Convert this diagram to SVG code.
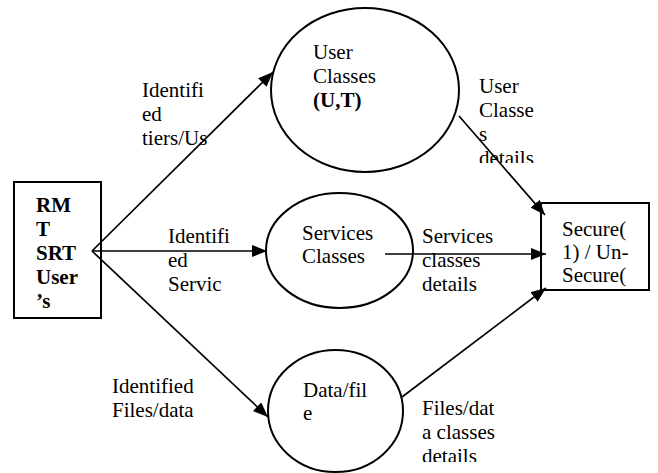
<svg xmlns="http://www.w3.org/2000/svg" width="658" height="473" viewBox="0 0 658 473" font-family="'Liberation Serif', 'Times New Roman', 'DejaVu Serif', serif">
  <style>
    text { font-family: 'Liberation Serif', 'Times New Roman', 'DejaVu Serif', serif; font-size: 21px; fill: #000; }
    .bold { font-weight: bold; }
    .shape { fill: #fff; stroke: #000; stroke-width: 2; }
    .edge { fill: none; stroke: #000; stroke-width: 1.7; marker-end: url(#arrow); }
  </style>
  <defs>
    <marker id="arrow" markerUnits="userSpaceOnUse" markerWidth="16" markerHeight="12" refX="15" refY="6" orient="auto">
      <path d="M0,0 L15,6 L0,12 z" fill="#000"/>
    </marker>
    <clipPath id="clipUserDetails"><rect x="470" y="60" width="100" height="103"/></clipPath>
    <clipPath id="clipFileDetails"><rect x="415" y="380" width="100" height="82"/></clipPath>
  </defs>

  <rect width="658" height="473" fill="#fff"/>

  <!-- nodes -->
  <g id="users">
    <rect class="shape" x="14" y="182" width="87" height="136"/>
    <text class="bold" x="36" y="212">RM</text>
    <text class="bold" x="36" y="236">T</text>
    <text class="bold" x="36" y="260">SRT</text>
    <text class="bold" x="36" y="284">User</text>
    <text class="bold" x="36" y="308">’s</text>
  </g>

  <g id="user-classes">
    <ellipse class="shape" cx="365" cy="90" rx="94" ry="82"/>
    <text x="313" y="59">User</text>
    <text x="313" y="83">Classes</text>
    <text class="bold" x="313" y="107">(U,T)</text>
  </g>

  <g id="services-classes">
    <ellipse class="shape" cx="339.5" cy="250.5" rx="73.5" ry="57.5"/>
    <text x="302" y="240">Services</text>
    <text x="302" y="263">Classes</text>
  </g>

  <g id="data-file">
    <ellipse class="shape" cx="335.5" cy="411" rx="67.5" ry="61"/>
    <text x="303" y="397">Data/fil</text>
    <text x="303" y="420">e</text>
  </g>

  <g id="secure">
    <rect class="shape" x="541" y="203" width="108" height="87"/>
    <text x="562" y="236">Secure(</text>
    <text x="562" y="259">1) / Un-</text>
    <text x="562" y="282">Secure(</text>
  </g>

  <!-- connectors -->
  <g id="connectors">
    <line class="edge" x1="92" y1="251" x2="273" y2="72"/>
    <line class="edge" x1="92" y1="251" x2="267" y2="251"/>
    <line class="edge" x1="92" y1="251" x2="268" y2="417"/>
    <line class="edge" x1="459" y1="116" x2="545" y2="215"/>
    <line class="edge" x1="385" y1="254" x2="546" y2="254"/>
    <line class="edge" x1="402" y1="397" x2="546" y2="288"/>
  </g>

  <!-- connector labels -->
  <g id="labels">
    <text x="142" y="97">Identifi</text>
    <text x="142" y="121">ed</text>
    <text x="142" y="145">tiers/Us</text>

    <text x="168" y="243">Identifi</text>
    <text x="168" y="267">ed</text>
    <text x="168" y="291">Servic</text>

    <text x="112" y="393">Identified</text>
    <text x="112" y="417">Files/data</text>

    <g clip-path="url(#clipUserDetails)">
      <text x="479" y="93">User</text>
      <text x="479" y="117">Classe</text>
      <text x="479" y="141">s</text>
      <text x="479" y="165">details</text>
    </g>

    <text x="422" y="243">Services</text>
    <text x="422" y="267">classes</text>
    <text x="422" y="291">details</text>

    <g clip-path="url(#clipFileDetails)">
      <text x="422" y="415">Files/dat</text>
      <text x="422" y="439">a classes</text>
      <text x="422" y="463">details</text>
    </g>
  </g>
</svg>
